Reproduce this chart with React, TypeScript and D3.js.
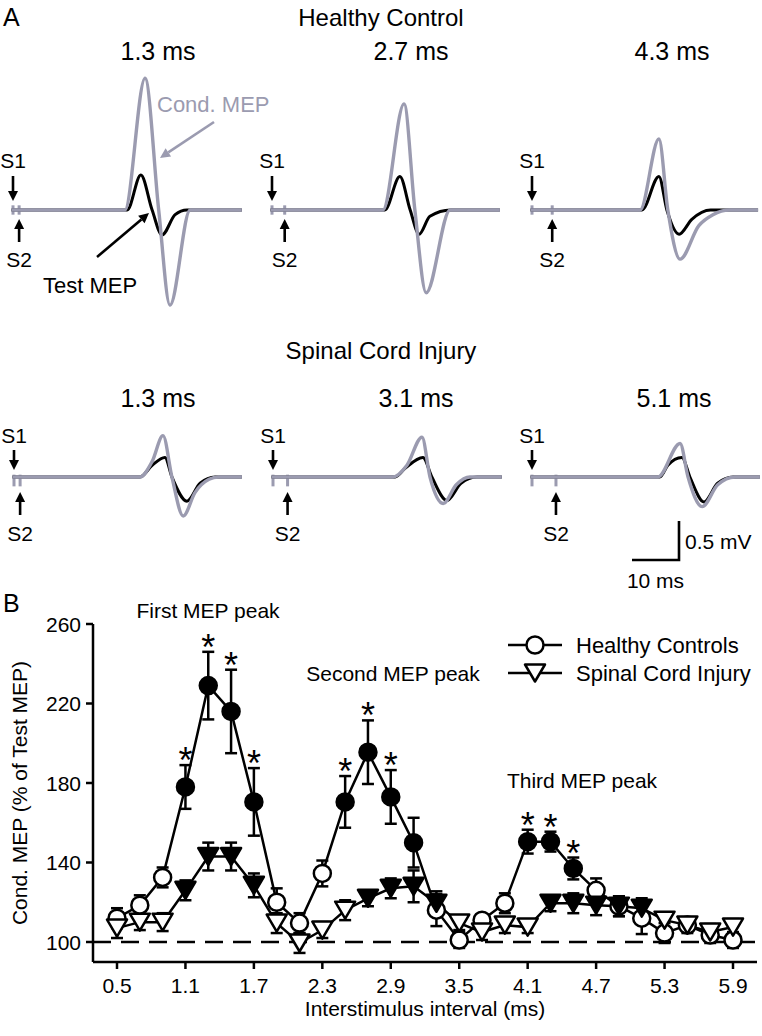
import React from 'react';
import * as d3 from 'd3';

const FONT = '"Liberation Sans", Arial, Helvetica, sans-serif';
const GREY = '#9b9bb0';

// ---------- Panel B data ----------
const isi = [0.5, 0.7, 0.9, 1.1, 1.3, 1.5, 1.7, 1.9, 2.1, 2.3, 2.5, 2.7, 2.9, 3.1, 3.3, 3.5, 3.7, 3.9, 4.1, 4.3, 4.5, 4.7, 4.9, 5.1, 5.3, 5.5, 5.7, 5.9];
const healthyMean = [112, 118.5, 132.5, 178, 229, 216, 170.5, 120, 109.5, 134.5, 170.5, 195.5, 173, 150, 116, 101, 111, 119.5, 150.5, 150.5, 137, 126, 118, 112, 104.5, 108.5, 103.5, 101];
const healthyErr = [5, 5, 5, 11, 17, 21, 17, 7, 5, 6.5, 13, 16, 13.5, 12.5, 8, 4, 3, 5, 6, 5, 5.5, 6, 5, 8, 5, 4, 4, 4];
const healthyFilled = [0, 0, 0, 1, 1, 1, 1, 0, 0, 0, 1, 1, 1, 1, 0, 0, 0, 0, 1, 1, 1, 0, 0, 0, 0, 0, 0, 0];
const healthyStar = [0, 0, 0, 1, 1, 1, 1, 0, 0, 0, 1, 1, 1, 0, 0, 0, 0, 0, 1, 1, 1, 0, 0, 0, 0, 0, 0, 0];
const sciMean = [107, 110, 110, 126, 143, 143, 128.5, 109.5, 99.5, 106, 116, 122, 127, 128, 119.5, 109.5, 105, 108.5, 107.5, 119.5, 119.5, 118.5, 118, 117, 111, 108.5, 105, 107.5];
const sciErr = [5, 4, 4.5, 5, 7, 7, 6, 5, 5, 4, 5, 4, 5, 8, 6, 3.5, 4, 4, 3, 4, 5, 5, 5, 5, 4, 3, 4, 4];
const sciFilled = [0, 0, 0, 1, 1, 1, 1, 0, 0, 0, 0, 1, 1, 1, 1, 0, 0, 0, 0, 1, 1, 1, 1, 1, 0, 0, 0, 0];
const xTicks = [0.5, 1.1, 1.7, 2.3, 2.9, 3.5, 4.1, 4.7, 5.3, 5.9];
const yTicks = [100, 140, 180, 220, 260];
const peakLabels = ['First MEP peak', 'Second MEP peak', 'Third MEP peak'];
const legendLabels = ['Healthy Controls', 'Spinal Cord Injury'];

// ---------- Panel A data (ms after S1, mV) ----------
const hcIsi = [1.3, 2.7, 4.3];
const sciIsi = [1.3, 3.1, 5.1];
const hcTest13 = [[-0.3, 0], [24.3, 0], [27.2, 0.45], [29.6, 0], [31.7, -0.32], [34.5, -0.06], [37, 0], [48.7, 0]];
const hcCond13 = [[-0.3, 0], [23.8, 0], [28.1, 1.69], [31.0, 0], [33.4, -1.22], [37.7, 0], [48.7, 0]];
const hcTest27 = [[-0.3, 0], [24.0, 0], [27.2, 0.43], [29.4, 0], [31.3, -0.31], [33.6, -0.08], [38, 0], [48.5, 0]];
const hcCond27 = [[-0.3, 0], [23.6, 0], [28.1, 1.36], [30.4, 0], [32.8, -1.06], [37.9, 0], [48.5, 0]];
const hcTest43 = [[-0.3, 0], [23.4, 0], [27.0, 0.43], [28.7, 0], [31.3, -0.31], [34.0, -0.12], [38, 0], [48.1, 0]];
const hcCond43 = [[-0.3, 0], [23.0, 0], [27.0, 0.91], [28.9, 0], [31.5, -0.63], [35.5, -0.2], [38.5, -0.06], [42, 0], [48.1, 0]];
const sciTest13 = [[-0.3, 0], [26.8, 0], [29.4, 0.15], [32.1, 0.25], [33.6, 0], [36.8, -0.31], [39.6, -0.08], [42.8, 0], [48.5, 0]];
const sciCond13 = [[-0.3, 0], [26.8, 0], [29.4, 0.2], [31.7, 0.53], [33.6, 0], [36.0, -0.5], [38.5, -0.2], [41.5, -0.03], [43.5, 0], [48.5, 0]];
const sciTest31 = [[-0.3, 0], [26.0, 0], [28.1, 0.11], [31.9, 0.25], [33.8, 0], [37.0, -0.3], [40, -0.08], [43.4, 0], [48.7, 0]];
const sciCond31 = [[-0.3, 0], [25.5, 0], [28.5, 0.15], [31.7, 0.51], [33.4, 0], [36.2, -0.34], [39.0, -0.1], [41.9, 0], [48.7, 0]];
const sciTest51 = [[-0.3, 0], [27.2, 0], [28.9, 0.15], [31.9, 0.25], [33.6, 0], [36.6, -0.32], [39.5, -0.08], [42.8, 0], [48.5, 0]];
const sciCond51 = [[-0.3, 0], [26.8, 0], [31.5, 0.43], [33.2, 0], [36.2, -0.38], [39.5, -0.1], [43.2, 0], [48.5, 0]];
// stimulus artifact extent (mV): [top, bottom]
const hcArtifact = [0.06, -0.06];
const sciArtifact = [0.03, -0.12];

const tScale = d3.scaleLinear().domain([0, 10]).range([0, 47]);
const vScale = d3.scaleLinear().domain([0, 0.5]).range([0, -39]);

type Pt = number[];

function Arrow({ x1, y1, x2, y2, color = '#000' }: { x1: number; y1: number; x2: number; y2: number; color?: string }) {
  const a = Math.atan2(y2 - y1, x2 - x1);
  const L = 10, W = 5;
  const bx = x2 - L * Math.cos(a), by = y2 - L * Math.sin(a);
  const p1 = [bx + W * Math.sin(a), by - W * Math.cos(a)];
  const p2 = [bx - W * Math.sin(a), by + W * Math.cos(a)];
  return (
    <g>
      <line x1={x1} y1={y1} x2={bx} y2={by} stroke={color} strokeWidth={2.6} />
      <path d={`M${x2},${y2}L${p1[0]},${p1[1]}L${p2[0]},${p2[1]}Z`} fill={color} />
    </g>
  );
}

function TracePanel({ s1x, base, isiMs, test, cond, title, titleX, titleY, art, row }: any) {
  const line = d3.line<Pt>()
    .x(d => s1x + tScale(d[0]))
    .y(d => base + vScale(d[1]))
    .curve(d3.curveMonotoneX);
  const s2x = s1x + tScale(isiMs);
  const off = row === 0
    ? { s1Label: -42, s1Tail: -34, s1Tip: -9, s2Tip: 9, s2Tail: 32, s2Label: 57 }
    : { s1Label: -34, s1Tail: -27, s1Tip: -7, s2Tip: 15, s2Tail: 38, s2Label: 64 };
  return (
    <g>
      <text x={titleX} y={titleY} textAnchor="middle" fontSize={25}>{title}</text>
      {[s1x, s2x].map((x, i) => (
        <line key={i} x1={x} x2={x} y1={base + vScale(art[0])} y2={base + vScale(art[1])} stroke={GREY} strokeWidth={3} />
      ))}
      <path d={line(test as Pt[]) || ''} fill="none" stroke="#000" strokeWidth={3} />
      <path d={line(cond as Pt[]) || ''} fill="none" stroke={GREY} strokeWidth={3.4} />
      <text x={s1x} y={base + off.s1Label} textAnchor="middle" fontSize={21}>S1</text>
      <Arrow x1={s1x} y1={base + off.s1Tail} x2={s1x} y2={base + off.s1Tip} />
      <Arrow x1={s2x} y1={base + off.s2Tail} x2={s2x} y2={base + off.s2Tip} />
      <text x={s2x} y={base + off.s2Label} textAnchor="middle" fontSize={21}>S2</text>
    </g>
  );
}

function triPath(cx: number, cy: number, w = 20, h = 17) {
  return `M${cx - w / 2},${cy - h / 2}L${cx + w / 2},${cy - h / 2}L${cx},${cy + h / 2}Z`;
}

export default function App() {
  // panel B scales
  const x = d3.scaleLinear().domain([0.5, 5.9]).range([117, 733]);
  const y = d3.scaleLinear().domain([100, 260]).range([942, 624]);
  const xMin = x.invert(93), xMax = x.invert(757), yMin = y.invert(962);

  const hc = isi.map((t, i) => ({ t, m: healthyMean[i], e: healthyErr[i], f: healthyFilled[i], s: healthyStar[i] }));
  const sci = isi.map((t, i) => ({ t, m: sciMean[i], e: sciErr[i], f: sciFilled[i] }));
  const ln = d3.line<any>().x(d => x(d.t)).y(d => y(d.m));

  const errBars = (data: any[]) => data.map((d, i) => (
    <g key={i} stroke="#000" strokeWidth={2.5}>
      <line x1={x(d.t)} x2={x(d.t)} y1={y(d.m - d.e)} y2={y(d.m + d.e)} />
      <line x1={x(d.t) - 6} x2={x(d.t) + 6} y1={y(d.m + d.e)} y2={y(d.m + d.e)} />
      <line x1={x(d.t) - 6} x2={x(d.t) + 6} y1={y(d.m - d.e)} y2={y(d.m - d.e)} />
    </g>
  ));

  const panels = [
    { s1x: 13, base: 210, isiMs: hcIsi[0], test: hcTest13, cond: hcCond13, titleX: 158, titleY: 60, art: hcArtifact, row: 0 },
    { s1x: 272, base: 210, isiMs: hcIsi[1], test: hcTest27, cond: hcCond27, titleX: 411, titleY: 60, art: hcArtifact, row: 0 },
    { s1x: 532, base: 210, isiMs: hcIsi[2], test: hcTest43, cond: hcCond43, titleX: 672, titleY: 60, art: hcArtifact, row: 0 },
    { s1x: 14, base: 477, isiMs: sciIsi[0], test: sciTest13, cond: sciCond13, titleX: 158, titleY: 407, art: sciArtifact, row: 1 },
    { s1x: 273, base: 477, isiMs: sciIsi[1], test: sciTest31, cond: sciCond31, titleX: 416, titleY: 407, art: sciArtifact, row: 1 },
    { s1x: 532, base: 477, isiMs: sciIsi[2], test: sciTest51, cond: sciCond51, titleX: 674, titleY: 407, art: sciArtifact, row: 1 },
  ];

  // scale bar anchored at its corner
  const sbx = 679, sby = 560;

  return (
    <svg width={762} height={1036} style={{ position: 'absolute', left: 0, top: 0, background: '#fff' }}
      fontFamily={FONT} fill="#000">
      <rect width={762} height={1036} fill="#fff" />
      {/* Panel A */}
      <text x={3} y={26} fontSize={25}>A</text>
      <text x={381} y={26} textAnchor="middle" fontSize={24}>Healthy Control</text>
      <text x={381} y={359} textAnchor="middle" fontSize={24}>Spinal Cord Injury</text>
      {panels.map((p, i) => (
        <TracePanel key={i} {...p} title={`${p.isiMs} ms`} />
      ))}
      <text x={157} y={112} fontSize={22} fill={GREY}>Cond. MEP</text>
      <Arrow x1={214} y1={122} x2={160} y2={158} color={GREY} />
      <text x={43} y={293} fontSize={22}>Test MEP</text>
      <Arrow x1={97} y1={257} x2={149} y2={213} />
      {/* scale bar */}
      <path d={`M${sbx + tScale(-10)},${sby}H${sbx}V${sby + vScale(0.5)}`} fill="none" stroke="#000" strokeWidth={2.6} />
      <text x={sbx + 6} y={sby - 11} fontSize={21}>0.5 mV</text>
      <text x={sbx + tScale(-5)} y={sby + 28} textAnchor="middle" fontSize={21}>10 ms</text>

      {/* Panel B */}
      <text x={3} y={612} fontSize={25}>B</text>
      <line x1={x(xMin)} x2={x(xMin)} y1={y(yMin)} y2={y(260)} stroke="#000" strokeWidth={2.5} />
      <line x1={x(xMin)} x2={x(xMax)} y1={y(yMin)} y2={y(yMin)} stroke="#000" strokeWidth={2.5} />
      {yTicks.map(t => (
        <g key={t}>
          <line x1={x(xMin) - 7} x2={x(xMin)} y1={y(t)} y2={y(t)} stroke="#000" strokeWidth={2.5} />
          <text x={x(xMin) - 12} y={y(t) + 7.5} textAnchor="end" fontSize={21}>{t}</text>
        </g>
      ))}
      {xTicks.map(t => (
        <g key={t}>
          <line x1={x(t)} x2={x(t)} y1={y(yMin)} y2={y(yMin) + 7} stroke="#000" strokeWidth={2.5} />
          <text x={x(t)} y={y(yMin) + 31} textAnchor="middle" fontSize={21}>{t.toFixed(1)}</text>
        </g>
      ))}
      <text x={425} y={1016} textAnchor="middle" fontSize={21}>Interstimulus interval (ms)</text>
      <text transform={`translate(27,${(y(260) + y(yMin)) / 2}) rotate(-90)`} textAnchor="middle" fontSize={21}>Cond. MEP (% of Test MEP)</text>
      <line x1={x(xMin)} x2={x(xMax)} y1={y(100)} y2={y(100)} stroke="#000" strokeWidth={2.5} strokeDasharray="18,10" />

      <text x={208} y={618} textAnchor="middle" fontSize={21}>{peakLabels[0]}</text>
      <text x={393} y={681} textAnchor="middle" fontSize={21}>{peakLabels[1]}</text>
      <text x={582} y={788} textAnchor="middle" fontSize={21}>{peakLabels[2]}</text>

      <path d={ln(hc) || ''} fill="none" stroke="#000" strokeWidth={2.5} />
      <path d={ln(sci) || ''} fill="none" stroke="#000" strokeWidth={2.5} />
      {errBars(hc)}
      {errBars(sci)}
      {hc.map((d, i) => (
        <circle key={i} cx={x(d.t)} cy={y(d.m)} r={8.5} fill={d.f ? '#000' : '#fff'} stroke="#000" strokeWidth={2.5} />
      ))}
      {sci.map((d, i) => (
        <path key={i} d={triPath(x(d.t), y(d.m))} fill={d.f ? '#000' : '#fff'} stroke="#000" strokeWidth={2.5} strokeLinejoin="round" />
      ))}
      {hc.filter(d => d.s).map((d, i) => (
        <text key={i} x={x(d.t)} y={y(d.m + d.e) + 8} textAnchor="middle" fontSize={36}>*</text>
      ))}

      {/* legend */}
      {legendLabels.map((lab, i) => {
        const ly = 645 + i * 28;
        return (
          <g key={lab}>
            <line x1={508} x2={562} y1={ly} y2={ly} stroke="#000" strokeWidth={2.5} />
            {i === 0
              ? <circle cx={535} cy={ly} r={8.5} fill="#fff" stroke="#000" strokeWidth={2.5} />
              : <path d={triPath(535, ly)} fill="#fff" stroke="#000" strokeWidth={2.5} strokeLinejoin="round" />}
            <text x={576} y={ly + 7.5} fontSize={22}>{lab}</text>
          </g>
        );
      })}
    </svg>
  );
}
